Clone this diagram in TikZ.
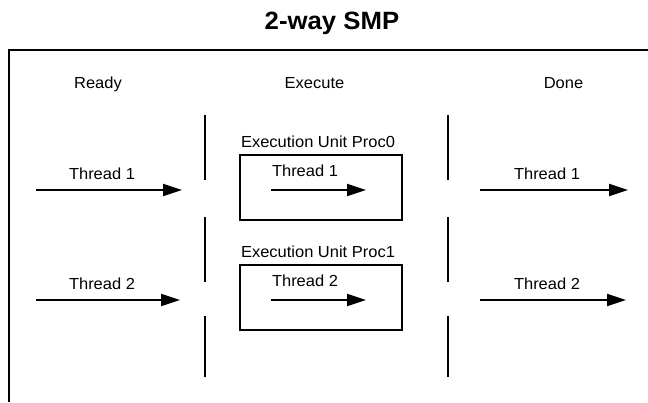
\documentclass[tikz,border=0pt]{standalone}
\usepackage{fontspec}
\setmainfont[FakeStretch=1.03]{Liberation Sans}
\usetikzlibrary{arrows.meta}
\begin{document}
\begin{tikzpicture}[x=1bp,y=-1bp,
  lbl/.style={font=\fontsize{16bp}{19bp}\selectfont, inner sep=0pt, anchor=base},
  ttl/.style={font=\bfseries\fontsize{25bp}{29bp}\selectfont, inner sep=0pt, anchor=base},
  flow/.style={line width=2bp, -{Triangle[length=19bp,width=12bp]}},
  unit/.style={draw, line width=2bp, minimum width=162bp, minimum height=65bp, inner sep=0pt, anchor=north west},
  sep/.style={line width=2bp}]
\useasboundingbox (0,0) rectangle (648,402);

% title
\node[ttl] (title) at (332,29) {2-way SMP};

% frame
\coordinate (fr1) at (648,50);
\coordinate (fr2) at (9,50);
\coordinate (fr3) at (9,402);
\draw[sep] (fr1) -- (fr2) -- (fr3);

% column headings
\node[lbl] (ready) at (98,88) {Ready};
\node[lbl] (exec) at (314.5,88) {Execute};
\node[lbl] (done) at (563.5,88) {Done};

% separators
\foreach \x/\n in {205/l, 448/r} {
  \coordinate (\n a) at (\x,115); \coordinate (\n b) at (\x,180);
  \coordinate (\n c) at (\x,217); \coordinate (\n d) at (\x,282);
  \coordinate (\n e) at (\x,316); \coordinate (\n f) at (\x,377);
  \draw[sep] (\n a) -- (\n b);
  \draw[sep] (\n c) -- (\n d);
  \draw[sep] (\n e) -- (\n f);
}

% execution units
\node[lbl] (p0lbl) at (318,147.5) {Execution Unit Proc0};
\node[unit] (u0) at (239,154) {};
\node[lbl] (p1lbl) at (318,257.5) {Execution Unit Proc1};
\node[unit] (u1) at (239,264) {};

% row 1
\node[lbl] (t1r) at (102,179.5) {Thread 1};
\coordinate (a1s) at (36,190); \coordinate (a1e) at (182,190);
\draw[flow] (a1s) -- (a1e);
\node[lbl] (t1x) at (305,176) {Thread 1};
\coordinate (b1s) at (271,190); \coordinate (b1e) at (366,190);
\draw[flow] (b1s) -- (b1e);
\node[lbl] (t1d) at (547,179.5) {Thread 1};
\coordinate (c1s) at (480,190); \coordinate (c1e) at (628,190);
\draw[flow] (c1s) -- (c1e);

% row 2
\node[lbl] (t2r) at (102,289) {Thread 2};
\coordinate (a2s) at (36,300); \coordinate (a2e) at (180,300);
\draw[flow] (a2s) -- (a2e);
\node[lbl] (t2x) at (305,286) {Thread 2};
\coordinate (b2s) at (271,300); \coordinate (b2e) at (366,300);
\draw[flow] (b2s) -- (b2e);
\node[lbl] (t2d) at (547,289) {Thread 2};
\coordinate (c2s) at (480,300); \coordinate (c2e) at (626,300);
\draw[flow] (c2s) -- (c2e);
\end{tikzpicture}
\end{document}
